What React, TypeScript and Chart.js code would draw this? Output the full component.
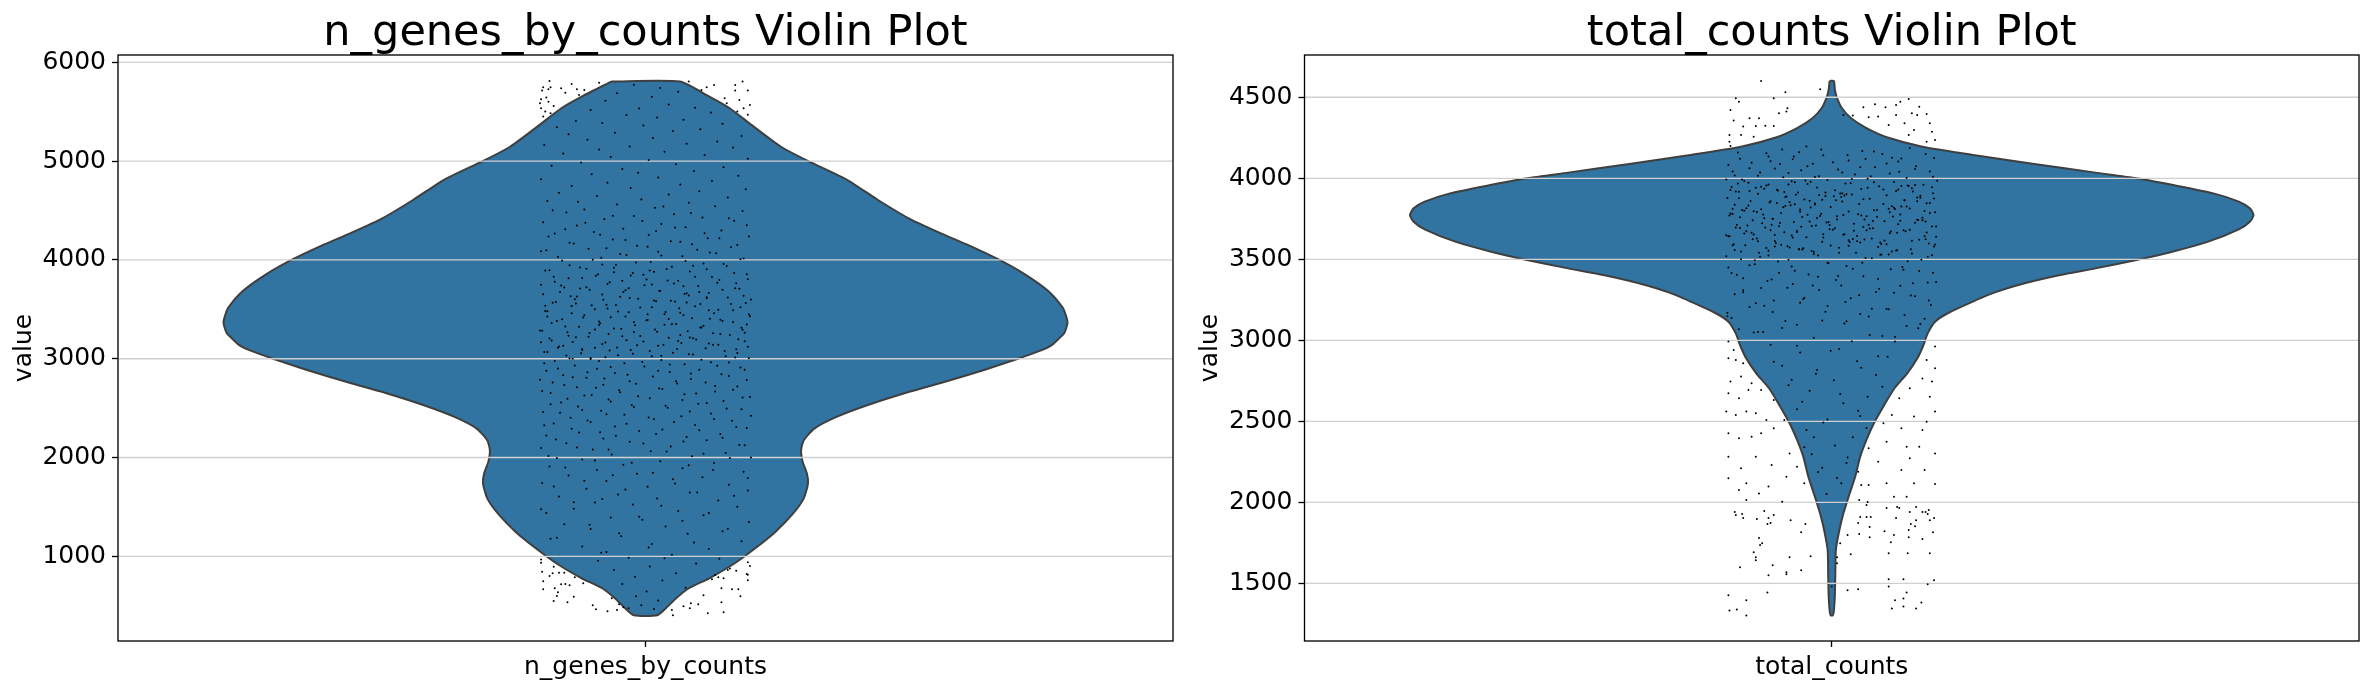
import React, { useEffect, useRef } from "react";
import { Chart, registerables } from "chart.js";

Chart.register(...registerables);

const FONT = "'DejaVu Sans'";
const genesTitle = "n_genes_by_counts Violin Plot";
const countsTitle = "total_counts Violin Plot";
const genesCategory = "n_genes_by_counts";
const countsCategory = "total_counts";
const genesTicks = [1000, 2000, 3000, 4000, 5000, 6000];
const countsTicks = [1500, 2000, 2500, 3000, 3500, 4000, 4500];
const genesRange = [143, 6074];
const countsRange = [1144, 4761];

// Violin outlines: value, half width in category units.
const genesOutlineValues = [5805, 5653, 5535, 5377, 5148, 4997, 4811, 4609, 4424, 4279, 4145, 4010, 3852, 3683, 3515, 3437, 3364, 3260, 3185, 3130, 3084, 3000, 2889, 2764, 2646, 2529, 2411, 2293, 2175, 2074, 1956, 1838, 1737, 1586, 1434, 1249, 1081, 930, 778, 677, 576, 475, 404];
const genesOutlineWidths = [0.0324, 0.0605, 0.0798, 0.0991, 0.128, 0.1548, 0.191, 0.22, 0.249, 0.278, 0.307, 0.3337, 0.36, 0.382, 0.3956, 0.3985, 0.4, 0.397, 0.39, 0.384, 0.375, 0.353, 0.3216, 0.283, 0.244, 0.21, 0.181, 0.16, 0.15, 0.1475, 0.149, 0.153, 0.154, 0.15, 0.14, 0.1233, 0.104, 0.0846, 0.0605, 0.0411, 0.029, 0.0193, 0.0111];
const countsOutlineValues = [4601, 4545, 4500, 4432, 4370, 4309, 4253, 4195, 4144, 4088, 4035, 4000, 3953, 3907, 3856, 3815, 3774, 3732, 3685, 3609, 3547, 3496, 3444, 3403, 3352, 3294, 3228, 3167, 3115, 3043, 2971, 2889, 2796, 2704, 2601, 2488, 2385, 2282, 2158, 2035, 1932, 1829, 1706, 1562, 1418, 1325, 1302];
const countsOutlineWidths = [0.002, 0.003, 0.0048, 0.0097, 0.0184, 0.0329, 0.0522, 0.086, 0.134, 0.192, 0.25, 0.289, 0.328, 0.362, 0.386, 0.3965, 0.4, 0.3965, 0.386, 0.357, 0.323, 0.289, 0.25, 0.2166, 0.183, 0.154, 0.13, 0.11, 0.098, 0.091, 0.087, 0.0812, 0.0716, 0.0595, 0.0498, 0.04, 0.0329, 0.027, 0.0222, 0.016, 0.0111, 0.00725, 0.0039, 0.0034, 0.0029, 0.0019, 0.001];

// Jitter dots, as [offset in thousandths of a category, value]. The original has
// thousands; the points outside the violins are read off the picture and the
// dense part inside is a hand-estimated, much sparser sample of it.
const genesDots = [
[-99,969],[-99,936],[-98,845],[-97,747],[-97,666],[-91,801],[-88,828],[-87,895],[-86,676],[-84,599],[-87,548],[-83,636],[-80,717],[-76,720],[-72,706],[-68,592],[-74,535],[-82,835],[-77,835],[-67,787],[-59,727],[-50,504],[-47,464],[-36,444],[-27,457],[-25,514],[-32,575],[-21,484],[-16,474],[25,457],[26,403],[36,494],[42,474],[43,524],[50,514],[55,605],[59,423],[72,535],[74,434],[90,595],[82,666],[88,666],[72,676],[97,757],[96,821],[97,814],[99,902],[97,939],[86,855],[74,777],[69,787],[66,811],[63,767],[78,861],[80,878],
[-91,5811],[-97,5747],[-90,5747],[-98,5714],[-92,5727],[-80,5737],[-70,5781],[-76,5693],[-65,5727],[-58,5720],[-63,5670],[-44,5794],[-99,5626],[-94,5643],[-100,5585],[-92,5602],[-99,5535],[-87,5559],[-95,5501],[-97,5451],[-90,5484],[41,5805],[53,5720],[65,5771],[58,5747],[85,5771],[92,5805],[97,5714],[85,5714],[75,5636],[77,5585],[89,5619],[99,5569],[93,5535],[97,5468],[87,5501],
[-11,5772],[14,5741],[-27,5688],[6,5652],[31,5703],[-38,5611],[22,5574],[-6,5533],[-52,5518],[47,5541],[62,5492],[-18,5466],[11,5441],[36,5418],[-66,5405],[-41,5386],[73,5377],[-84,5342],[-2,5361],[52,5322],[26,5306],[-29,5288],[-73,5271],[91,5254],[7,5233],[-55,5216],[68,5198],[39,5176],[-96,5162],[-15,5149],[83,5137],[-44,5118],[18,5096],[-78,5078],[56,5062],[-33,5041],[97,5023],[3,5011],[-61,4986],[29,4968],[-89,4952],[74,4937],[-22,4919],[46,4901],[-7,4883],[-51,4866],[88,4851],[12,4833],[-99,4816],[63,4798],[-36,4781],[33,4764],[-70,4747],[-14,4729],[95,4714],[51,4695],[-82,4681],[22,4663],[-46,4647],[78,4631],[-4,4612],[-93,4596],[41,4578],[-27,4561],[66,4544],[9,4527],[-58,4511],[92,4495],[-75,4479],[27,4462],[-11,4445],[54,4429],[-39,4413],[84,4396],[-97,4381],[15,4364],[-65,4348],[38,4331],[-21,4316],[72,4299],[-49,4283],[-86,4268],[3,4251],[98,4236],[59,4220],[-31,4206],[24,4190],[-72,4174],[44,4159],[-8,4143],[81,4127],[-54,4112],[-94,4098],[12,4082],[67,4068],[-18,4051],[35,4037],[-42,4022],[90,4008],[-79,3994],[5,3979],[55,3965],[-28,3951],[77,3938],[-62,3923],[20,3908],[-91,3895],[42,3882],[-12,3868],[96,3854],[-47,3841],[63,3827],[-73,3814],[1,3801],[31,3788],[-34,3775],[86,3763],[-99,3749],[50,3737],[-56,3724],[-16,3712],[73,3699],[14,3687],[-81,3675],[39,3662],[-41,3650],[93,3638],[-24,3626],[58,3613],[-67,3602],[8,3590],[28,3578],[-88,3566],[81,3554],[-51,3542],[47,3531],[-5,3519],[-36,3508],[69,3496],[-95,3484],[19,3472],[-70,3461],[98,3450],[36,3439],[-19,3427],[-59,3416],[61,3405],[2,3393],[-84,3382],[83,3371],[-43,3360],[25,3349],[-10,3338],[-76,3327],[52,3316],[-30,3305],[92,3294],[-98,3283],[11,3272],[-53,3261],[71,3250],[33,3239],[-22,3228],[-66,3218],[45,3207],[88,3196],[-89,3185],[-2,3174],[-38,3164],[60,3153],[17,3142],[-78,3131],[97,3120],[-48,3110],[30,3099],[-14,3088],[75,3078],[-93,3067],[-61,3056],[41,3045],[-26,3035],[6,3024],[85,3013],[-72,3003],[53,2990],[-44,2978],[-3,2966],[-96,2953],[23,2941],[68,2928],[-33,2915],[-83,2902],[94,2889],[12,2877],[-55,2864],[43,2851],[-17,2838],[79,2825],[-69,2812],[-39,2799],[-100,2786],[29,2773],[57,2760],[-9,2747],[-77,2733],[87,2720],[-47,2707],[16,2694],[-25,2680],[66,2667],[-90,2654],[37,2641],[-58,2627],[99,2613],[4,2600],[-35,2586],[74,2572],[-80,2558],[50,2545],[-13,2531],[-64,2517],[21,2503],[91,2489],[-42,2474],[-97,2460],[62,2446],[-20,2432],[34,2417],[-71,2403],[8,2388],[82,2373],[-52,2359],[-87,2344],[47,2329],[-29,2314],[96,2299],[16,2284],[-6,2269],[-63,2254],[71,2238],[-94,2223],[39,2208],[-40,2192],[58,2176],[-15,2160],[-75,2144],[89,2128],[24,2112],[-99,2096],[-50,2080],[5,2063],[76,2047],[-32,2030],[44,2013],[-84,1996],[100,1999],[-60,1979],[14,1962],[65,1945],[-21,1927],[-91,1909],[35,1891],[-46,1873],[93,1855],[-8,1837],[-73,1819],[54,1800],[26,1781],[-37,1762],[-98,1743],[79,1724],[2,1705],[-56,1685],[97,1666],[42,1646],[-26,1626],[-82,1606],[11,1586],[69,1566],[-48,1545],[-12,1524],[87,1503],[-68,1482],[31,1460],[-94,1438],[55,1416],[-33,1394],[-3,1371],[98,1348],[-77,1325],[19,1301],[-52,1277],[73,1253],[40,1228],[-23,1203],[-90,1178],[91,1152],[6,1126],[-60,1100],[60,1073],[-37,1045],[25,1017],[-16,985],[-45,956],[48,927],[4,896],[-30,862],[29,829],[70,975],[-10,793],[16,756],[-22,719],[38,681],[1,643],[-9,597],[12,552],[-4,505],[8,466],
[-64,4588],[17,4541],[-88,4503],[43,4476],[-31,4447],[79,4421],[-3,4393],[-57,4377],[96,4352],[28,4329],[-76,4310],[10,4291],[56,4271],[-43,4254],[-92,4237],[70,4219],[-19,4202],[33,4184],[-68,4167],[87,4151],[2,4134],[-37,4118],[49,4103],[-99,4088],[61,4074],[-24,4059],[15,4044],[-83,4029],[93,4015],[-50,4001],[38,3988],[-9,3973],[74,3959],[-72,3946],[25,3932],[-30,3920],[58,3906],[-95,3893],[8,3880],[84,3867],[-45,3855],[-14,3842],[47,3829],[-60,3817],[97,3805],[21,3792],[-86,3780],[68,3768],[-36,3756],[-1,3744],[36,3733],[-77,3721],[89,3709],[-53,3698],[13,3686],[-21,3675],[60,3664],[-97,3652],[41,3641],[-65,3630],[78,3619],[-7,3608],[-40,3597],[24,3586],[-85,3575],[95,3565],[52,3554],[-28,3543],[-70,3533],[6,3522],[32,3512],[-48,3501],[83,3491],[-93,3480],[-16,3470],[65,3460],[18,3450],[-58,3440],[99,3430],[-33,3420],[44,3410],[-79,3400],[1,3390],[73,3381],[-11,3371],[-89,3361],[29,3352],[-44,3342],[55,3333],[-63,3323],[91,3314],[-23,3304],[9,3295],[-100,3286],[40,3277],[-74,3267],[64,3258],[-35,3249],[80,3240],[-5,3231],[-54,3222],[22,3213],[-91,3204],[48,3195],[-18,3186],[94,3177],[-69,3168],[34,3159],[-41,3150],[69,3141],[12,3132],[-82,3123],[-27,3114],[57,3105],[86,3096],[-60,3087],[4,3078],[-96,3069],[26,3060],[-12,3051],[45,3042],[-75,3033],[76,3024],[-38,3015],[98,3006],[-52,2997],[15,2987],[-86,2976],[62,2965],[-20,2954],[37,2943],[-67,2932],[-1,2921],[90,2910],[-46,2899],[51,2888],[-94,2877],[23,2866],[-29,2855],[72,2843],[-78,2832],[7,2820],[-56,2808],[43,2796],[96,2784],[-15,2772],[-88,2760],[30,2748],[-40,2736],[66,2724],[-65,2711],[13,2699],[83,2686],[-98,2673],[-24,2660],[48,2647],[-51,2634],[-7,2621],[92,2608],[-74,2594],[35,2581],[-33,2567],[58,2553],[-90,2539],[19,2525],[-11,2511],[77,2496],[-60,2482],[42,2467],[-81,2452],[-37,2437],[100,2422],[3,2406],[65,2391],[-55,2375],[27,2359],[-18,2343],[-96,2326],[86,2309],[-70,2292],[51,2275],[-43,2257],[10,2239],[-28,2220],[73,2201],[-85,2182],[36,2163],[-2,2143],[94,2123],[-65,2102],[-35,2081],[20,2060],[55,2038],[-92,2016],[80,1994],[-48,1971],[-13,1947],[41,1923],[-76,1898],[64,1873],[7,1847],[-31,1820],[97,1793],[-58,1765],[28,1736],[-87,1707],[-19,1677],[49,1646],[84,1614],[-41,1581],[-68,1547],[15,1512],[-99,1476],[60,1439],[-6,1401],[35,1361],[-53,1320],[78,1278],[-25,1234],[-84,1188],[46,1140],[3,1090],[-42,1037],[18,981],
[-2,3850],[-71,3633],[33,3465],[85,3712],[-48,3295],[10,3582],[-22,3789],[64,3141],[-93,3428],[51,3676],[-37,3546],[18,3344],[-60,3098],[90,3521],[4,3892],[-80,3742],[42,3216],[-15,3615],[71,3395],[-52,3007],[27,3761],[-99,3167],[60,3491],[-30,3875],[94,3263],[-8,3136],[-66,3558],[37,3654],[79,2962],[-44,3376],[15,3029],[-87,3830],[53,3317],[-19,3694],[-73,3233],[100,3600],[2,3451],[-56,3910],[31,3180],[70,3798],[-34,3084],[-95,3535],[45,3942],[-11,3270],[87,3059],[-62,3710],[22,3402],[-41,3953],[58,3622],[-83,3112],[6,3751],[-26,3479],[96,3346],[-69,2999],[39,3569]
];

const countsDots = [
[-98,1426],[-97,1333],[-90,1339],[-81,1395],[-81,1302],[-61,1444],[-87,1599],[-60,1550],[-56,1612],[-43,1568],[-43,1556],[-29,1581],[-40,1661],[-20,1667],[-74,1692],[-72,1661],[-72,1643],[-69,1779],[-66,1748],[-68,1736],[-92,1940],[-91,1921],[-85,1928],[-84,1903],[-71,1897],[-64,1946],[-55,1921],[-60,1903],[-58,1872],[-61,1866],[-39,1890],[-25,1866],[-29,1816],[15,1457],[25,1463],[0,1481],[5,1624],[5,1661],[18,1680],[8,1748],[15,1798],[26,1804],[36,1785],[36,1847],[25,1872],[27,1909],[33,1909],[37,1909],[50,1822],[59,1798],[56,1754],[54,1686],[72,1686],[93,1686],[54,1525],[68,1525],[97,1519],[91,1494],[54,1481],[71,1444],[60,1395],[68,1407],[85,1382],[68,1357],[57,1345],[80,1345],[96,1816],[86,1773],[73,1785],[73,1829],[79,1853],[75,1866],[80,1890],[93,1890],[97,1903],[92,1952],[91,1928],[89,1940],[86,1940],[74,1940],[64,1965],[62,1971],[61,1903],[52,1965],[80,1971],[34,2002],[33,1983],[26,2014],
[-67,4601],[-44,4531],[-11,4549],[-55,4494],[-91,4494],[-88,4473],[-96,4422],[-42,4432],[-43,4412],[-50,4401],[-93,4356],[-78,4370],[-69,4370],[-84,4319],[-72,4323],[-63,4325],[-55,4323],[-97,4267],[-86,4267],[-74,4257],[-97,4226],[-96,4200],[30,4438],[41,4457],[51,4438],[61,4453],[73,4490],[65,4473],[83,4442],[90,4397],[61,4391],[35,4377],[44,4381],[76,4401],[81,4391],[54,4329],[69,4339],[93,4339],[78,4298],[95,4288],[98,4237],[73,4267],[90,4226],[11,4391],[20,4387],
[-98,2992],[-93,2940],[-98,2889],[-91,2879],[-84,2858],[-96,2745],[-86,2776],[-76,2735],[-98,2673],[-88,2642],[-79,2693],[-67,2693],[-100,2560],[-91,2539],[-81,2560],[-72,2549],[-62,2508],[-55,2632],[-98,2426],[-88,2395],[-76,2405],[-67,2426],[-55,2457],[-45,2508],[-98,2282],[-86,2210],[-72,2282],[-57,2230],[-40,2302],[-33,2220],[-98,2148],[-81,2117],[-60,2097],[-43,2158],[-88,2076],[-69,2055],[-47,2004],[-26,2117],[-81,2014],
[98,2961],[90,2879],[98,2827],[86,2765],[95,2745],[74,2704],[93,2652],[64,2642],[98,2560],[57,2539],[78,2529],[90,2498],[49,2488],[66,2457],[86,2447],[35,2333],[52,2374],[71,2343],[83,2343],[98,2302],[44,2251],[74,2272],[88,2199],[28,2107],[52,2117],[78,2117],[98,2113],[35,2107],[66,2199],[25,2189],[59,2035],[71,2035],
[-5,2052],[9,2118],[-13,2187],[14,2243],[-19,2296],[3,2351],[20,2402],[-24,2447],[-8,2492],[27,2533],[-33,2574],[11,2611],[34,2651],[-21,2688],[-41,2722],[2,2754],[42,2786],[-14,2817],[-47,2843],[24,2871],[53,2899],[-30,2924],[7,2947],[-58,2972],[60,2993],[-17,3015],[36,3033],[-70,3052],[-88,3069],[71,3088],[12,3103],[-44,3119],[88,3133],[-99,3148],[27,3163],[-6,3177],[54,3191],[-78,3205],[94,3218],[-30,3232],[-55,3245],[18,3259],[79,3272],[-92,3285],[42,3298],[-12,3311],[-67,3323],[65,3336],[-37,3348],[99,3360],[4,3372],[-84,3383],[30,3395],[-22,3406],[-50,3417],[83,3428],[56,3439],[-98,3449],[14,3459],[-73,3469],[-4,3479],[72,3488],[-41,3497],[38,3506],[91,3515],[-60,3523],[-17,3532],[23,3540],[-86,3548],[62,3556],[-31,3564],[7,3572],[97,3579],[-94,3587],[47,3594],[-53,3601],[-9,3608],[76,3615],[31,3622],[-71,3629],[-24,3636],[88,3642],[-100,3649],[12,3655],[55,3661],[-45,3667],[-81,3673],[68,3679],[-2,3685],[39,3691],[-63,3697],[95,3702],[-15,3708],[-90,3714],[21,3719],[79,3725],[-36,3730],[50,3735],[-75,3741],[5,3746],[-56,3751],[86,3756],[-28,3761],[33,3766],[-97,3771],[65,3776],[-10,3781],[-48,3786],[98,3790],[16,3795],[-83,3800],[43,3805],[-67,3809],[74,3814],[-20,3819],[-1,3823],[57,3828],[-39,3833],[-92,3837],[26,3842],[90,3846],[-59,3851],[10,3856],[-77,3860],[69,3864],[-26,3869],[36,3873],[-99,3878],[81,3882],[-43,3887],[-6,3891],[52,3895],[19,3900],[-70,3904],[96,3908],[-32,3913],[-88,3917],[61,3921],[3,3926],[-52,3930],[28,3934],[76,3939],[-14,3943],[-95,3947],[45,3951],[-62,3956],[87,3960],[-23,3964],[13,3968],[-79,3972],[59,3977],[-38,3981],[100,3985],[-4,3989],[-85,3993],[34,3997],[71,4002],[-46,4006],[-12,4012],[-92,4018],[22,4024],[55,4030],[-68,4036],[93,4042],[-29,4049],[6,4055],[-54,4061],[41,4068],[80,4075],[-98,4082],[-18,4089],[-76,4096],[63,4103],[16,4110],[-37,4118],[97,4126],[-60,4134],[-8,4142],[48,4150],[-89,4159],[29,4168],[-47,4177],[74,4187],[-24,4197],
[-83,3983],[-35,3976],[18,3969],[66,3953],[-72,3942],[49,3931],[-91,3919],[8,3906],[84,3893],[-44,3884],[30,3871],[-58,3858],[93,3848],[-16,3838],[71,3826],[-81,3815],[40,3803],[-30,3793],[-96,3783],[11,3773],[58,3764],[-64,3753],[82,3743],[-21,3734],[-49,3724],[35,3713],[99,3703],[-87,3693],[1,3683],[-33,3674],[62,3664],[-74,3653],[24,3644],[-8,3634],[89,3623],[-54,3613],[46,3603],[-93,3593],[16,3583],[-40,3573],[75,3562],[-19,3551],[-69,3541],[54,3530],[-100,3519],[32,3508],[85,3497],[-51,3486],[-3,3475],[-78,3464],[67,3452],[20,3441],[-35,3429],[96,3417],[-90,3404],[-13,3392],[44,3379],[-61,3366],[77,3352],[9,3338],[-42,3324],[-84,3309],[59,3294],[26,3278],[-26,3262],[92,3246],[-72,3229],[-4,3212],[38,3194],[-56,3175],[69,3156],[-95,3137],[14,3117],[-33,3096],[82,3074],[-65,3051],[48,3027],
[-41,3962],[77,3918],[-9,3867],[-94,3812],[25,3778],[-56,3751],[63,3716],[3,3691],[-76,3664],[38,3629],[92,3598],[-27,3568],[-64,3935],[14,3902],[81,3858],[-46,3822],[55,3790],[-87,3759],[-5,3727],[30,3699],[-33,3668],[99,3639],[-70,3611],[44,3576],[-17,3546],[72,3955],[-96,3928],[9,3884],[-52,3847],[60,3810],[-23,3775],[86,3741],[-80,3708],[21,3676],[-38,3647],[50,3616],[-1,3585],[-60,3552],[95,3525],[-89,3968],[34,3941],[-12,3897],[69,3865],[-44,3829],[-74,3796],[5,3766],[89,3733],[-29,3701],[56,3671],[-98,3642],[17,3607],[-54,3579],[76,3536],[40,3975],[-67,3948],[-6,3912],[97,3875],[-35,3840],[-85,3804],[28,3771],[65,3738],[-19,3705],[-58,3680],[11,3651],[83,3620],[-48,3590],[-92,3558],[47,3530],[-25,3986],[73,3952],[-78,3921],[2,3889],[-40,3853],[59,3818],[93,3785],[-14,3755],[-66,3722],[36,3690],[-83,3659],[20,3625],[52,3593],[-31,3561],[-100,3992],[79,3958],[-51,3925],[12,3894],[-21,3861],[66,3826],[-71,3792],[43,3762],[-3,3730],[-91,3697],[90,3666],[-37,3634],[27,3603],[-62,3570],[7,3540],[-45,3915],[84,3880],[-16,3845],[54,3812],[-94,3779],[31,3746],[-57,3714],[74,3683],[-8,3654],[-75,3624],[98,3592],[-28,3560],[46,3528],[-86,3500],[19,3995],[-60,3962],[63,3931],[-34,3899],[4,3864],[-79,3832],[88,3798],[-11,3768],[39,3736],[-50,3704],[70,3673],[-97,3643],[24,3612],[-42,3580],[57,3548],[-68,3516],[-20,3978],[95,3945],[10,3908],[-88,3877],[49,3842],[-30,3808],[-65,3776],[81,3744],[-2,3712],[33,3680],[-54,3650],[16,3618],[-82,3587],[61,3555],[-13,3523],
[-73,3494],[29,3478],[-38,3455],[68,3436],[-95,3416],[6,3397],[-57,3376],[91,3357],[-18,3338],[45,3318],[-84,3296],[75,3277],[-27,3255],[13,3236],[-64,3214],[52,3193],[-99,3170],[35,3147],[-9,3123],[84,3100],[-47,3076],[-74,3048],[60,3021],[19,2994],[-33,2966],[-1,2935],[44,2902],[-55,2868],[28,2830],[-15,2794],[-38,2757],[48,2714],[8,2669],[-28,2620],[25,2565],[-4,2511],[33,2458],[-17,2402],[-26,2340],[15,2276],[-9,2214],[5,2150],
[-87,4120],[-62,4155],[-36,4135],[-10,4178],[15,4143],[40,4166],[66,4122],[89,4150],[-78,4062],[-49,4088],[-23,4074],[1,4099],[27,4068],[52,4092],[79,4058],[-94,4042],[-70,4015],[-41,4032],[-16,4008],[10,4035],[37,4012],[64,4040],[96,4010],[-58,4105],[32,4119],[-31,4160],[57,4127]
];

type Dot = number[];

const violinPoints = (values: number[], widths: number[]) => {
  const left = values.map((y, i) => ({ x: -widths[i], y }));
  const right = values.map((y, i) => ({ x: widths[i], y })).reverse();
  return [...left, ...right, left[0]];
};

const framePlugin = {
  id: "frame",
  afterDraw(chart: any) {
    const { left, right, top, bottom } = chart.chartArea;
    const ctx = chart.ctx;
    ctx.save();
    ctx.strokeStyle = "#000";
    ctx.lineWidth = 1.33;
    ctx.strokeRect(left, top, right - left, bottom - top);
    ctx.restore();
  },
};

function build(
  canvas: HTMLCanvasElement,
  title: string,
  category: string,
  ticks: number[],
  range: number[],
  values: number[],
  widths: number[],
  dots: Dot[],
  axisWidth: number
) {
  const gridSets = ticks.map((t) => ({
    type: "line",
    data: [{ x: -0.5, y: t }, { x: 0.5, y: t }],
    borderColor: "#d0d0d0",
    borderWidth: 1.33,
    pointRadius: 0,
    order: 2,
    fill: false,
  }));
  return new Chart(canvas, {
    type: "scatter",
    data: {
      datasets: [
        {
          type: "line",
          data: violinPoints(values, widths),
          borderColor: "#3f3f3f",
          backgroundColor: "#3274a1",
          borderWidth: 2,
          pointRadius: 0,
          tension: 0.2,
          fill: "shape",
          order: 3,
        },
        ...gridSets,
        {
          data: dots.map(([x, y]) => ({ x: x / 1000, y })),
          backgroundColor: "#000",
          borderWidth: 0,
          pointRadius: 1,
          order: 1,
        },
      ] as any,
    },
    options: {
      animation: false,
      responsive: false,
      events: [],
      layout: { padding: { left: 0, right: 12, top: 0, bottom: 0 } },
      plugins: {
        legend: { display: false },
        tooltip: { enabled: false },
        title: {
          display: true,
          text: title,
          color: "#000",
          fullSize: false,
          font: { family: FONT, size: 43, weight: "normal", lineHeight: 1 },
          padding: { top: 12, bottom: 0 },
        },
      },
      scales: {
        x: {
          type: "linear",
          min: -0.5,
          max: 0.5,
          afterBuildTicks: (s: any) => {
            s.ticks = [{ value: 0 }];
          },
          afterFit: (s: any) => {
            s.height = 49;
          },
          grid: { display: true, drawOnChartArea: false, drawTicks: true, tickLength: 6, tickColor: "#000", tickWidth: 1.33 },
          border: { display: false },
          ticks: {
            color: "#000",
            padding: 5,
            maxRotation: 0,
            font: { family: FONT, size: 25 },
            callback: () => category,
          },
        },
        y: {
          type: "linear",
          min: range[0],
          max: range[1],
          afterBuildTicks: (s: any) => {
            s.ticks = ticks.map((value) => ({ value }));
          },
          afterFit: (s: any) => {
            s.width = axisWidth;
          },
          grid: { display: true, drawOnChartArea: false, drawTicks: true, tickLength: 6, tickColor: "#000", tickWidth: 1.33 },
          border: { display: false },
          title: {
            display: true,
            text: "value",
            color: "#000",
            font: { family: FONT, size: 25, weight: "normal", lineHeight: 1.2 },
            padding: { top: 9, bottom: 0 },
          },
          ticks: {
            color: "#000",
            padding: 6,
            font: { family: FONT, size: 25 },
            callback: (v: any) => String(v),
          },
        },
      },
    } as any,
    plugins: [framePlugin],
  });
}

export default function App() {
  const a = useRef<HTMLCanvasElement>(null);
  const b = useRef<HTMLCanvasElement>(null);
  useEffect(() => {
    const c1 = build(a.current!, genesTitle, genesCategory, genesTicks, genesRange, genesOutlineValues, genesOutlineWidths, genesDots, 118);
    const c2 = build(b.current!, countsTitle, countsCategory, countsTicks, countsRange, countsOutlineValues, countsOutlineWidths, countsDots, 118.5);
    return () => {
      c1.destroy();
      c2.destroy();
    };
  }, []);
  return (
    <div style={{ position: "absolute", left: 0, top: 0, width: 2371, height: 690, background: "#fff" }}>
      <canvas ref={a} width={1185} height={690} style={{ position: "absolute", left: 0, top: 0 }} />
      <canvas ref={b} width={1185} height={690} style={{ position: "absolute", left: 1186, top: 0 }} />
    </div>
  );
}
